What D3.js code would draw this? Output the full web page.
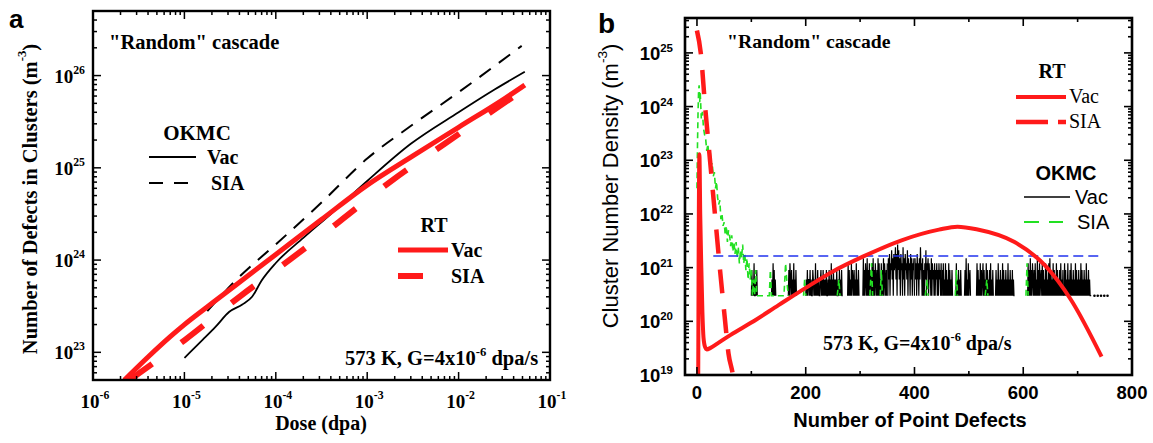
<!DOCTYPE html>
<html><head><meta charset="utf-8">
<script src="https://cdn.jsdelivr.net/npm/d3@7"></script>
<style>body{margin:0;background:#fff}svg{display:block}</style>
</head><body>
<svg id="c" width="1153" height="443"></svg>
<script>
// ---------- Panel a data (dose in dpa, value in m^-3) ----------
const rtVacDose = [2.2e-6, 4e-6, 7e-6, 1e-5, 2e-5, 5e-5, 1e-4, 3.16e-4, 1e-3, 3.16e-3, 1e-2, 3.16e-2, 5.3e-2];
const rtVacVal  = [5e22, 8.9e22, 1.48e23, 2e23, 3.4e23, 6.8e23, 1.15e24, 2.75e24, 6.5e24, 1.35e25, 2.75e25, 5.6e25, 7.9e25];
const rtSiaDose = [2.5e-6, 1e-5, 4e-5, 1.5e-4, 5e-4, 1.8e-3, 6.8e-3, 2.4e-2, 5e-2];
const rtSiaVal  = [5e22, 1.35e23, 4e23, 1.05e24, 2.63e24, 7.1e24, 1.78e25, 4.2e25, 6.9e25];
const okVacDose = [1e-5, 1.6e-5, 2.2e-5, 3.1e-5, 4.3e-5, 5.5e-5, 7e-5, 1e-4, 2e-4, 4e-4, 1e-3, 3e-3, 1e-2, 2.5e-2, 5.3e-2];
const okVacVal  = [8.7e22, 1.38e23, 1.9e23, 2.75e23, 3.3e23, 4e23, 6e23, 9.3e23, 1.74e24, 3.16e24, 7.2e24, 1.82e25, 4e25, 7.1e25, 1.1e26];
const okSiaDose = [1.78e-5, 4e-5, 1e-4, 3.16e-4, 1e-3, 3.16e-3, 1e-2, 4.9e-2];
const okSiaVal  = [2.8e23, 6.6e23, 1.48e24, 4.2e24, 1.26e25, 2.95e25, 6.6e25, 2.1e26];
const xTicksA = [-6, -5, -4, -3, -2, -1];
const yTicksA = [23, 24, 25, 26];

// ---------- Panel b data (n = number of point defects) ----------
const rtVacB = [[2,1e18],[3,1e21],[4.5,1.3e23],[6,1e22],[8,1e21],[10,1.5e20],[12,5e19],[15,3.3e19],[18,3e19],[25,3.2e19],[40,4e19],[62,5.6e19],[100,9.5e19],[150,2e20],[200,4.2e20],[250,8.5e20],[305,1.6e21],[375,3.2e21],[445,5.1e21],[479,5.8e21],[514,5.2e21],[584,3e21],[640,1.1e21],[688,2.5e20],[744,2.2e19]];
const rtSiaB = [[0,2.6e25],[7,1e25],[15,1e24],[24,1e23],[33,1e22],[42,1e21],[51,1.2e20],[58,2.5e19],[66,1e19],[72,3e18]];
const okSiaB = [[0,3e22],[1,2e23],[2,8e23],[3,2e24],[4,2.5e24],[5,1.2e24],[6,1.8e24],[8,6e23],[10,8e23],[12,4e23],[14,3e23],[16,2.5e23],[18,1.5e23],[20,2e23],[22,1.2e23],[24,1.6e23],[26,8e22],[28,9e22],[30,5e22],[32,6e22],[34,3e22],[36,4e22],[38,2e22],[40,1.5e22],[42,1.8e22],[44,8e21],[46,1e22],[48,6e21],[50,7e21],[52,4e21],[54,6e21],[56,3e21],[58,5e21],[60,4e21],[62,2.5e21],[64,4e21],[66,2e21],[68,3e21],[70,1.8e21],[72,3e21],[74,1.5e21],[76,2.4e21],[78,1.2e21],[80,2.1e21],[82,1.5e21],[84,2.7e21],[86,1.2e21],[88,1.8e21],[90,9e20],[92,1.5e21],[94,6e20],[96,1.2e21],[98,6e20],[100,9e20],[102,3e20],[104,6e20],[106,3e20],[108,9e20],[110,3e20],[116,3e20],[122,3e20],[128,3e20],[133,3e20],[135,9e20],[137,3e20],[145,3e20],[152,3e20],[160,3e20],[163,1.2e21],[165,6e20],[168,3e20],null,[196,3e20],[198,6e20],[200,3e20],null,[258,3e20],[261,6e20],[263,3e20],null,[318,3e20],[321,1.2e21],[323,3e20],null,[337,3e20],[339,9e20],[341,3e20],null,[420,3e20],[423,6e20],[425,3e20],null,[475,3e20],[477,9e20],[479,3e20],null,[530,3e20],[533,6e20],[535,3e20],null,[605,3e20],[607,1.2e21],[609,3e20]];
// OKMC vacancy clusters: segments of consecutive n, values in units of 1e20 m^-3
const okVacStart = [100, 137, 168, 200, 277, 305, 351, 401, 451, 476, 492, 514, 549, 608, 675];
const okVacE20 = [
 [3,9,3,6,3,12,3,3,6,3,9,3],
 [3,6,3,12,3,9,3,6,3],
 [3,9,3,12,6,3,9,3,6,3,12,3,6,3,9,3],
 [3,6,3,9,3,6,6,3,9,3,6,3,3,9,6,3,6,3,12,3,6,3,9,3,6,3,3,6,9,3,6,3,9,3,6,3,6,3,9,3,3,6,3,9,3,6,3,12,3,6,3,9,3,6,3,6,3,9,3,3,6,3,9,3,6,3,9,3,3],
 [3,12,3,9,3,6,3,12,3,9,6,3,9,3,6,3,12,3,6,3,9,3],
 [3,15,3,9,3,12,6,3,15,3,9,3,12,3,6,9,3,12,3,15,3,9,3,12,6,3,9,3,15,3,12,3,6,3,12,3,9,3,15,3,12,6,3,9,3,12],
 [3,15,6,18,3,12,9,21,6,15,3,18,9,12,24,6,18,3,27,9,21,6,15,3,18,9,12,3,24,6,15,3,18,9,12,6,21,3,15,9,12,3,18,6,15,3,12,9,15,3],
 [15,6,12,3,18,6,12,3,15,6,24,9,12,3,15,3,9,3,12,6,21,3,12,9,15,3,12,6,9,3,15,3,12,6,9,3,12,3,9,6,12,3,9,3,12,6,9,3,12,3],
 [9,3,12,3,6,3,12,3,9,3,6,3,12,3,9,3,6,3,9,3],
 [3,12,3,6,3,9,3,6,3,9,3],
 [3,9,3,15,3,6,3,12,3,6,9,3],
 [3,12,3,9,3,6,3,12,3,9,3,6,12,3,9,3,6,3,12,3,9,3,6,3,9,3,12,3,6,3,9,3],
 [3,9,3,6,3,12,3,6,3,9,3,6,3,12,3,9,3,6,3,9,3,6,3,12,3,6,3,9,3,6,3,9,3,6,3,3],
 [3,12,3,9,3,15,3,9,3,12,6,3,9,3,12,3,6,3,15,3,9,3,12,3,6,9,3,12,3,9,3,6,3,12,3,9,3,6,3,12,3,15,3,9,3,6,3,12,3,9,3,6,3,12,3,9,3,6,3,9,3,12,3,6,3,9,3],
 [3,12,3,9,3,6,3,12,3,6,3,9,3,12,3,6,3,9,3,6,3,12,3,9,3,6,3,9,3,6,3,12,3,9,3,6,3,9,3,6,3,12,3,6,3,9,3,6,3,3,3]
];
const okVacDotsN = [731, 737, 743, 749, 755];
const okVacDotsV = 3e20;
const blueRefN = [30, 747];
const blueRefV = 1.65e21;
const xTicksB = [0, 200, 400, 600, 800];
const yTicksB = [19, 20, 21, 22, 23, 24, 25];

// ---------- drawing ----------
const SERIF = '"Liberation Serif","Times New Roman",serif';
const SANS = '"Liberation Sans",Arial,sans-serif';
const RED = '#ff1a1a', GREEN = '#22e022', BLUE = '#2233ee';
const svg = d3.select('#c');

function supText(g, x, y, base, exp, opt) {
  const t = g.append('text').attr('x', x).attr('y', y)
    .attr('font-family', opt.font).attr('font-weight', opt.weight || 'bold')
    .attr('font-size', opt.size).attr('text-anchor', opt.anchor || 'middle').attr('fill', '#000');
  t.append('tspan').text(base);
  t.append('tspan').attr('dy', -opt.rise).attr('font-size', opt.size * 0.62).text(exp);
  if (opt.tail) t.append('tspan').attr('dy', opt.rise).text(opt.tail);
  return t;
}

function logTicks(g, scale, orient, lo, hi, pos, len, mlen) {
  const r = scale.range();
  for (let k = lo; k < hi; k++) {
    for (let m = 1; m <= 9; m++) {
      const p = scale(m * Math.pow(10, k));
      if (p < Math.min(...r) - 0.5 || p > Math.max(...r) + 0.5) continue;
      const L = m === 1 ? len : mlen;
      if (orient === 'v') {
        g.append('line').attr('x1', pos[0]).attr('x2', pos[0] + L).attr('y1', p).attr('y2', p);
        g.append('line').attr('x1', pos[1]).attr('x2', pos[1] - L).attr('y1', p).attr('y2', p);
      } else {
        g.append('line').attr('y1', pos[0]).attr('y2', pos[0] - L).attr('x1', p).attr('x2', p);
        g.append('line').attr('y1', pos[1]).attr('y2', pos[1] + L).attr('x1', p).attr('x2', p);
      }
    }
  }
}

// ===== Panel a =====
const xA = d3.scaleLog().domain([1e-6, 1e-1]).range([93, 550]);
const yA = d3.scaleLog().domain([Math.pow(10, 22.7), Math.pow(10, 26.7)]).range([380, 11]);
const gA = svg.append('g');
svg.append('clipPath').attr('id', 'clipA').append('rect').attr('x', 93).attr('y', 11).attr('width', 457).attr('height', 369);
const lineA = d3.line().x(d => xA(d[0])).y(d => yA(d[1])).curve(d3.curveMonotoneX);
const zip = (a, b) => a.map((v, i) => [v, b[i]]);
const cA = gA.append('g').attr('clip-path', 'url(#clipA)').attr('fill', 'none');
cA.append('path').attr('d', lineA(zip(okVacDose, okVacVal))).attr('stroke', '#000').attr('stroke-width', 1.8);
cA.append('path').attr('d', lineA(zip(okSiaDose, okSiaVal))).attr('stroke', '#000').attr('stroke-width', 2).attr('stroke-dasharray', '14,10');
cA.append('path').attr('d', lineA(zip(rtSiaDose, rtSiaVal))).attr('stroke', RED).attr('stroke-width', 6).attr('stroke-dasharray', '28,36');
cA.append('path').attr('d', lineA(zip(rtVacDose, rtVacVal))).attr('stroke', RED).attr('stroke-width', 5);

const tA = gA.append('g').attr('stroke', '#000').attr('stroke-width', 1.5);
logTicks(tA, yA, 'v', 22, 27, [93, 550], 8, 4);
logTicks(tA, xA, 'h', -6, -1, [380, 11], 8, 4);
tA.append('line').attr('x1', xA(1e-1)).attr('x2', xA(1e-1)).attr('y1', 380).attr('y2', 372);
gA.append('rect').attr('x', 93).attr('y', 11).attr('width', 457).attr('height', 369)
  .attr('fill', 'none').attr('stroke', '#000').attr('stroke-width', 2.4);

yTicksA.forEach(k => supText(gA, 85, yA(Math.pow(10, k)) + 7, '10', String(k), {font: SERIF, size: 19, rise: 9, anchor: 'end'}));
xTicksA.forEach(k => supText(gA, xA(Math.pow(10, k)) + 2, 408, '10', String(k), {font: SERIF, size: 19, rise: 9}));
gA.append('text').attr('x', 321).attr('y', 430).attr('text-anchor', 'middle').attr('font-family', SERIF)
  .attr('font-weight', 'bold').attr('font-size', 20).text('Dose (dpa)');
const yla = gA.append('g').attr('transform', 'translate(37,199) rotate(-90)');
supText(yla, 0, 0, 'Number of Defects in Clusters (m', '-3', {font: SERIF, size: 20.5, rise: 11, tail: ')'});
gA.append('text').attr('x', 9).attr('y', 28).attr('font-family', SANS).attr('font-weight', 'bold')
  .attr('font-size', 26).text('a');
gA.append('text').attr('x', 109).attr('y', 49).attr('font-family', SERIF).attr('font-weight', 'bold')
  .attr('font-size', 20.5).text('"Random" cascade');
gA.append('text').attr('x', 197).attr('y', 140).attr('text-anchor', 'middle').attr('font-family', SERIF)
  .attr('font-weight', 'bold').attr('font-size', 21).text('OKMC');
gA.append('line').attr('x1', 149).attr('x2', 196).attr('y1', 157).attr('y2', 157).attr('stroke', '#000').attr('stroke-width', 1.8);
gA.append('text').attr('x', 207).attr('y', 164).attr('font-family', SERIF).attr('font-weight', 'bold').attr('font-size', 20).text('Vac');
gA.append('line').attr('x1', 149).attr('x2', 188).attr('y1', 183).attr('y2', 183).attr('stroke', '#000').attr('stroke-width', 2).attr('stroke-dasharray', '14,11');
gA.append('text').attr('x', 211).attr('y', 190).attr('font-family', SERIF).attr('font-weight', 'bold').attr('font-size', 20).text('SIA');
gA.append('text').attr('x', 434).attr('y', 232).attr('text-anchor', 'middle').attr('font-family', SERIF)
  .attr('font-weight', 'bold').attr('font-size', 20).text('RT');
gA.append('line').attr('x1', 398).attr('x2', 448).attr('y1', 250).attr('y2', 250).attr('stroke', RED).attr('stroke-width', 5);
gA.append('text').attr('x', 451).attr('y', 257).attr('font-family', SERIF).attr('font-weight', 'bold').attr('font-size', 20).text('Vac');
gA.append('line').attr('x1', 398).attr('x2', 423).attr('y1', 276).attr('y2', 276).attr('stroke', RED).attr('stroke-width', 6);
gA.append('text').attr('x', 451).attr('y', 283).attr('font-family', SERIF).attr('font-weight', 'bold').attr('font-size', 20).text('SIA');
supText(gA, 345, 365, '573 K, G=4x10', '-6', {font: SERIF, size: 20.5, rise: 9, anchor: 'start', tail: ' dpa/s'});

// ===== Panel b =====
const xB = d3.scaleLinear().domain([-22, 800]).range([685, 1132]);
const yB = d3.scaleLog().domain([1e19, Math.pow(10, 25.65)]).range([375, 18]);
const gB = svg.append('g');
svg.append('clipPath').attr('id', 'clipB').append('rect').attr('x', 685).attr('y', 18).attr('width', 447).attr('height', 357);
const lineB = d3.line().defined(d => d !== null).x(d => xB(d[0])).y(d => yB(d[1]));
const cB = gB.append('g').attr('clip-path', 'url(#clipB)').attr('fill', 'none');
okVacStart.forEach((s, i) => {
  const pts = okVacE20[i].map((v, j) => [s + j, v * 1e20]);
  cB.append('path').attr('d', lineB(pts)).attr('stroke', '#000').attr('stroke-width', 1.2);
});
okVacDotsN.forEach(n => cB.append('circle').attr('cx', xB(n)).attr('cy', yB(okVacDotsV)).attr('r', 1.3).attr('fill', '#000'));
cB.append('path').attr('d', lineB(okSiaB)).attr('stroke', GREEN).attr('stroke-width', 1.6).attr('stroke-dasharray', '6,4');
cB.append('line').attr('x1', xB(blueRefN[0])).attr('x2', xB(blueRefN[1])).attr('y1', yB(blueRefV)).attr('y2', yB(blueRefV))
  .attr('stroke', BLUE).attr('stroke-width', 1.6).attr('stroke-dasharray', '10,5');
const lineBc = d3.line().x(d => xB(d[0])).y(d => yB(d[1])).curve(d3.curveMonotoneX);
cB.append('path').attr('d', lineBc(rtSiaB)).attr('stroke', RED).attr('stroke-width', 4.5).attr('stroke-dasharray', '24,16');
cB.append('path').attr('d', lineBc(rtVacB)).attr('stroke', RED).attr('stroke-width', 4);

const tB = gB.append('g').attr('stroke', '#000').attr('stroke-width', 1.6);
logTicks(tB, yB, 'v', 19, 26, [685, 1132], 8, 4);
d3.range(0, 801, 100).forEach(n => {
  const L = n % 200 === 0 ? 8 : 4;
  tB.append('line').attr('x1', xB(n)).attr('x2', xB(n)).attr('y1', 375).attr('y2', 375 - L);
  tB.append('line').attr('x1', xB(n)).attr('x2', xB(n)).attr('y1', 18).attr('y2', 18 + L);
});
gB.append('rect').attr('x', 685).attr('y', 18).attr('width', 447).attr('height', 357)
  .attr('fill', 'none').attr('stroke', '#000').attr('stroke-width', 2.6);

yTicksB.forEach(k => supText(gB, 673, yB(Math.pow(10, k)) + 7, '10', String(k), {font: SANS, size: 18.5, rise: 8, anchor: 'end', weight: 'bold'}));
xTicksB.forEach(n => gB.append('text').attr('x', xB(n)).attr('y', 399).attr('text-anchor', 'middle')
  .attr('font-family', SANS).attr('font-weight', 'bold').attr('font-size', 18.5).text(n));
gB.append('text').attr('x', 910).attr('y', 427).attr('text-anchor', 'middle').attr('font-family', SANS)
  .attr('font-weight', 'bold').attr('font-size', 20).text('Number of Point Defects');
const ylb = gB.append('g').attr('transform', 'translate(618,186) rotate(-90)');
supText(ylb, 0, 0, 'Cluster Number Density (m', '-3', {font: SANS, size: 22, rise: 11, weight: 'normal', tail: ')'});
gB.append('text').attr('x', 598).attr('y', 33).attr('font-family', SANS).attr('font-weight', 'bold')
  .attr('font-size', 28).text('b');
gB.append('text').attr('x', 727).attr('y', 48).attr('font-family', SERIF).attr('font-weight', 'bold')
  .attr('font-size', 19.7).text('"Random" cascade');
gB.append('text').attr('x', 1052).attr('y', 78).attr('text-anchor', 'middle').attr('font-family', SERIF)
  .attr('font-weight', 'bold').attr('font-size', 20).text('RT');
gB.append('line').attr('x1', 1016).attr('x2', 1066).attr('y1', 97).attr('y2', 97).attr('stroke', RED).attr('stroke-width', 4);
gB.append('text').attr('x', 1069).attr('y', 103).attr('font-family', SERIF).attr('font-size', 20).text('Vac');
gB.append('line').attr('x1', 1016).attr('x2', 1066).attr('y1', 122).attr('y2', 122).attr('stroke', RED).attr('stroke-width', 4.5).attr('stroke-dasharray', '32,10');
gB.append('text').attr('x', 1069).attr('y', 128).attr('font-family', SERIF).attr('font-size', 20).text('SIA');
gB.append('text').attr('x', 1066).attr('y', 180).attr('text-anchor', 'middle').attr('font-family', SANS)
  .attr('font-weight', 'bold').attr('font-size', 20).text('OKMC');
gB.append('line').attr('x1', 1024).attr('x2', 1070).attr('y1', 197).attr('y2', 197).attr('stroke', '#000').attr('stroke-width', 1.4);
gB.append('text').attr('x', 1075).attr('y', 204).attr('font-family', SANS).attr('font-size', 20).text('Vac');
gB.append('line').attr('x1', 1024).attr('x2', 1063).attr('y1', 222).attr('y2', 222).attr('stroke', GREEN).attr('stroke-width', 1.8).attr('stroke-dasharray', '15,10');
gB.append('text').attr('x', 1077).attr('y', 229).attr('font-family', SANS).attr('font-size', 20).text('SIA');
supText(gB, 823, 350, '573 K, G=4x10', '-6', {font: SERIF, size: 20, rise: 9, anchor: 'start', tail: ' dpa/s'});
</script>
</body></html>
